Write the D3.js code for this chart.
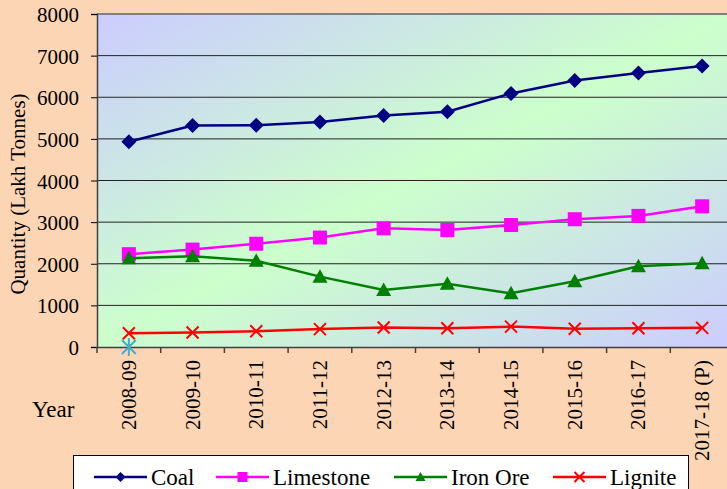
<!DOCTYPE html>
<html>
<head>
<meta charset="utf-8">
<script src="https://cdn.jsdelivr.net/npm/d3@7/dist/d3.min.js"></script>
<style>
  html, body { margin: 0; padding: 0; background: #FCD5B5; }
  svg text { font-family: "Liberation Serif", "Times New Roman", Times, "DejaVu Serif", serif; }
</style>
</head>
<body>
<svg id="chart" width="727" height="489"></svg>
<script>
const years = ["2008-09","2009-10","2010-11","2011-12","2012-13","2013-14","2014-15","2015-16","2016-17","2017-18 (P)"];
const coal      = [4930, 5320, 5330, 5405, 5560, 5650, 6090, 6400, 6580, 6750];
const limestone = [2230, 2340, 2480, 2630, 2850, 2810, 2930, 3070, 3150, 3380];
const ironOre   = [2130, 2180, 2070, 1690, 1370, 1520, 1290, 1580, 1940, 2010];
const lignite   = [330, 350, 380, 430, 470, 450, 490, 440, 450, 460];
const strayMarker = [{year: "2008-09", value: 0}];
const yTicks = [0, 1000, 2000, 3000, 4000, 5000, 6000, 7000, 8000];
const seriesNames = ["Coal", "Limestone", "Iron Ore", "Lignite"];

const series = [
  {name: seriesNames[0], values: coal,      color: "#000080", marker: "diamond"},
  {name: seriesNames[1], values: limestone, color: "#FF00FF", marker: "square"},
  {name: seriesNames[2], values: ironOre,   color: "#008000", marker: "triangle"},
  {name: seriesNames[3], values: lignite,   color: "#FF0000", marker: "cross"}
];

const svg = d3.select("#chart");
const W = 727, H = 489;
const plot = {left: 97, top: 14, right: 734, bottom: 347};

svg.append("rect").attr("width", W).attr("height", H).attr("fill", "#FCD5B5");

const x = d3.scaleBand().domain(years).range([plot.left, plot.right]).paddingInner(0).paddingOuter(0);
const y = d3.scaleLinear().domain([0, 8000]).range([plot.bottom, plot.top]);

const defs = svg.append("defs");
const grad = defs.append("linearGradient").attr("id", "bg")
  .attr("x1", "0").attr("y1", "0").attr("x2", "1").attr("y2", "1");
grad.append("stop").attr("offset", "0%").attr("stop-color", "#CCCCFF");
grad.append("stop").attr("offset", "50%").attr("stop-color", "#CCFFCC");
grad.append("stop").attr("offset", "100%").attr("stop-color", "#CCCCFF");

svg.append("rect")
  .attr("x", plot.left).attr("y", plot.top)
  .attr("width", plot.right - plot.left).attr("height", plot.bottom - plot.top)
  .attr("fill", "url(#bg)");

svg.append("g").selectAll("line").data(yTicks.filter(d => d > 0 && d < 8000)).join("line")
  .attr("x1", plot.left).attr("x2", plot.right)
  .attr("y1", d => y(d)).attr("y2", d => y(d))
  .attr("stroke", "#222").attr("stroke-width", 1);

svg.append("line").attr("x1", plot.left).attr("x2", plot.right)
  .attr("y1", plot.top).attr("y2", plot.top)
  .attr("stroke", "#808080").attr("stroke-width", 2);

const yAxis = d3.axisLeft(y).tickValues(yTicks).tickSize(6).tickPadding(12).tickFormat(d3.format("d"));
const gy = svg.append("g").attr("transform", `translate(${plot.left},0)`).call(yAxis);
gy.attr("font-family", null).attr("font-size", null);
gy.select(".domain").attr("stroke", "#404040").attr("stroke-width", 1.5);
gy.selectAll(".tick line").attr("stroke", "#000");
gy.selectAll(".tick text").style("font-size", "21px").attr("fill", "#000").attr("dy", "0.36em");

const xAxis = d3.axisBottom(x).tickSize(0).tickFormat("");
const gx = svg.append("g").attr("transform", `translate(0,${plot.bottom})`).call(xAxis);
gx.select(".domain").attr("stroke", "#404040").attr("stroke-width", 1.5);
svg.append("g").selectAll("line").data(years).join("line")
  .attr("x1", d => x(d)).attr("x2", d => x(d))
  .attr("y1", plot.bottom).attr("y2", plot.bottom + 6)
  .attr("stroke", "#404040").attr("stroke-width", 1.5);

svg.append("g").selectAll("text").data(years).join("text")
  .attr("transform", d => `translate(${x(d) + x.bandwidth() / 2 + 7},${plot.bottom + 13}) rotate(-90)`)
  .attr("text-anchor", "end")
  .style("font-size", "21px").attr("fill", "#000")
  .text(d => d);

svg.append("text")
  .attr("transform", `translate(25,194) rotate(-90)`)
  .attr("text-anchor", "middle").style("font-size", "21px").attr("fill", "#000")
  .text("Quantity (Lakh Tonnes)");
svg.append("text").attr("x", 32).attr("y", 417)
  .style("font-size", "23px").attr("fill", "#000").text("Year");

function drawMarker(g, type, color, s) {
  if (type === "diamond") {
    g.append("path").attr("d", `M0,${-s}L${s},0L0,${s}L${-s},0Z`).attr("fill", color);
  } else if (type === "square") {
    g.append("rect").attr("x", -s).attr("y", -s).attr("width", 2 * s).attr("height", 2 * s).attr("fill", color);
  } else if (type === "triangle") {
    g.append("path").attr("d", `M0,${-s}L${s},${s * 0.8}L${-s},${s * 0.8}Z`).attr("fill", color);
  } else if (type === "cross") {
    g.append("path").attr("d", `M${-s},${-s}L${s},${s}M${-s},${s}L${s},${-s}`)
      .attr("stroke", color).attr("stroke-width", 2).attr("fill", "none");
  } else if (type === "asterisk") {
    g.append("path").attr("d", `M${-s},${-s}L${s},${s}M${-s},${s}L${s},${-s}M0,${-s * 1.3}L0,${s * 1.3}`)
      .attr("stroke", color).attr("stroke-width", 2).attr("fill", "none");
  }
}
const markerSize = {diamond: 7.5, square: 7, triangle: 7.5, cross: 6};
const legendMarkerSize = {diamond: 5, square: 5, triangle: 5, cross: 5};

const line = d3.line().x((d, i) => x(years[i]) + x.bandwidth() / 2).y(d => y(d));

series.forEach(s => {
  svg.append("path").datum(s.values).attr("d", line)
    .attr("fill", "none").attr("stroke", s.color).attr("stroke-width", 2.5);
  svg.append("g").selectAll("g").data(s.values).join("g")
    .attr("transform", (d, i) => `translate(${x(years[i]) + x.bandwidth() / 2},${y(d)})`)
    .each(function () { drawMarker(d3.select(this), s.marker, s.color, markerSize[s.marker]); });
});

svg.append("g").selectAll("g").data(strayMarker).join("g")
  .attr("transform", d => `translate(${x(d.year) + x.bandwidth() / 2},${y(d.value)})`)
  .each(function () { drawMarker(d3.select(this), "asterisk", "#4BACC6", 7); });

svg.append("rect").attr("x", 73.5).attr("y", 455.5).attr("width", 615).attr("height", 40)
  .attr("fill", "#fff").attr("stroke", "#000").attr("stroke-width", 1);
const legendX = [94, 216, 394, 553];
series.forEach((s, i) => {
  const g = svg.append("g").attr("transform", `translate(${legendX[i]},477)`);
  g.append("line").attr("x1", 0).attr("x2", 53).attr("stroke", s.color).attr("stroke-width", 2.5);
  const m = g.append("g").attr("transform", "translate(26.5,0)");
  drawMarker(m, s.marker, s.color, legendMarkerSize[s.marker]);
  g.append("text").attr("x", 57).attr("y", 7.5).style("font-size", "23px").attr("fill", "#000").text(s.name);
});
</script>
</body>
</html>
